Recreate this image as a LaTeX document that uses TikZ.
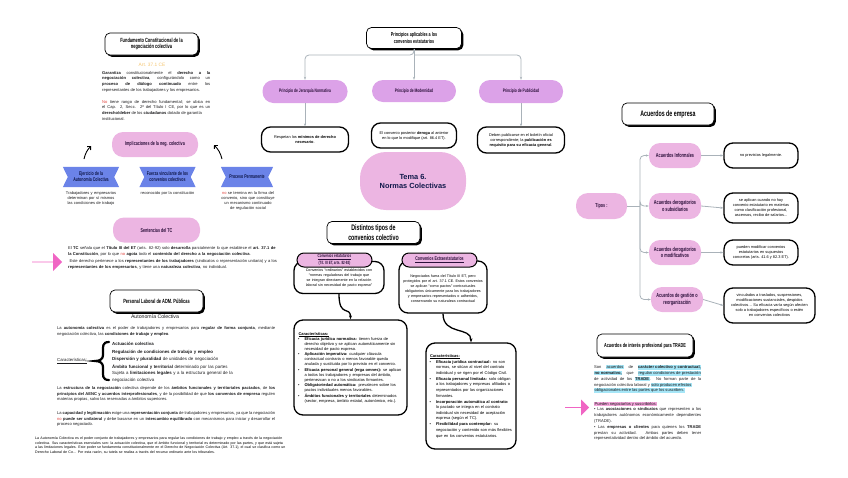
\documentclass[tikz,border=0pt]{standalone}
\usepackage{fontspec}
\setmainfont{Liberation Sans}
\newfontfamily\condfont[FakeStretch=0.66]{Liberation Sans}
\usepackage{enumitem}
\usetikzlibrary{arrows.meta, positioning, calc, shadows, shapes.arrows, backgrounds}
\definecolor{pillviolet}{HTML}{DCA2E8}
\definecolor{pillpink}  {HTML}{ECB5E2}
\definecolor{pilltext}  {HTML}{2B0F3A}
\definecolor{ribbonblue}{HTML}{6B83E8}
\definecolor{navy}      {HTML}{10184A}
\definecolor{conngray}  {HTML}{A9B2B9}
\definecolor{hotpink}   {HTML}{F065C4}
\definecolor{hlcyan}    {HTML}{A6E6F7}
\definecolor{hlpink}    {HTML}{F5A6DC}
\definecolor{artorange} {HTML}{F4C46E}
\definecolor{nored}     {HTML}{E0403A}
\definecolor{ink}       {HTML}{1A1A1C}

\newcommand{\hlc}[1]{{\setlength{\fboxsep}{0.4pt}\colorbox{hlcyan}{#1}}}
\newcommand{\hlp}[1]{{\setlength{\fboxsep}{0.4pt}\colorbox{hlpink}{#1}}}
\newcommand{\redno}[1]{\textcolor{nored}{#1}}
\newcommand{\fs}[2]{\fontsize{#1}{#2}\selectfont}

\tikzset{
  titlebox/.style={draw=black, line width=0.7pt, fill=white, rounded corners=5pt,
    drop shadow={shadow xshift=1.8pt, shadow yshift=-1.8pt, opacity=1, fill=black},
    font=\condfont\bfseries\fs{6}{6.8}, align=center, inner sep=1pt},
  pill/.style={fill=pillpink, rounded corners=11pt, text=pilltext,
    font=\condfont\bfseries\fs{5.6}{6.4}, align=center, inner sep=1pt},
  roundbox/.style={draw=black, line width=1.3pt, fill=white, rounded corners=9pt,
    align=center, font=\fs{3.9}{5}, inner sep=2pt},
  ribbontag/.style={text=navy, font=\condfont\bfseries\fs{5.4}{6}, align=center,
    minimum width=56pt, minimum height=20pt, inner sep=0pt},
  body/.style={font=\fs{4.1}{5.8}, align=justify, inner sep=0pt, anchor=north west, text=ink},
  small/.style={font=\fs{4}{5.2}, align=center, inner sep=0pt, anchor=north, text=ink},
  conn/.style={draw=conngray, line width=0.8pt, rounded corners=4pt, -{Stealth[length=3pt]}},
  flow/.style={draw=black, line width=1.3pt, -{Stealth[length=4pt]}},
  hand/.style={draw=black, line width=0.9pt, -{Straight Barb[length=2.5pt]}},
  pinkarrow/.style={single arrow, fill=hotpink, inner sep=0pt, single arrow head extend=5pt,
    minimum width=18pt},
}

\begin{document}
\hyphenpenalty=10000 \exhyphenpenalty=10000 \emergencystretch=2em
\begin{tikzpicture}[x=1pt, y=-1pt]
  \useasboundingbox (0,0) rectangle (848,477);

  % ---- left column: fundamento
  \node[titlebox, minimum width=93pt, minimum height=22pt] (fund) at (151.5,44)
    {Fundamento Constitucional de la\\negociación colectiva};
  \node[font=\fs{4.8}{5.6}, text=artorange] (art) at (152,65) {Art. 37.1 CE};
  \node[body, text width=108pt] (garant) at (102,71)
    {\textbf{Garantiza} constitucionalmente el \textbf{derecho a la}\linebreak
     \textbf{negociación colectiva}, configurándolo como un\linebreak
     \textbf{proceso de diálogo continuado} entre los\linebreak
     representantes de los trabajadores y los empresarios.};
  \node[body, text width=108pt] (rango) at (102,100)
    {\redno{No} tiene rango de derecho fundamental; se ubica en\linebreak
     el Cap. 2, Secc. 2ª del Título I CE, por lo que es un\linebreak
     \textbf{derecho/deber} de los \textbf{ciudadanos} dotado de garantía\\
     institucional.};
  \node[pill, minimum width=86pt, minimum height=25pt] (impl) at (155,144.5)
    {Implicaciones de la neg. colectiva};

  \node[ribbontag] (rb1) at (91,177) {Ejercicio de la\\Autonomía Colectiva};
  \node[ribbontag] (rb2) at (167.5,177) {Fuerza vinculante de los\\convenios colectivos};
  \node[ribbontag, minimum width=52pt] (rb3) at (247,177) {Proceso Permanente};
  \begin{scope}[on background layer]
    \foreach \r in {rb1,rb2,rb3}
      \fill[ribbonblue] (\r.north west) -- (\r.north east) -- ([xshift=-5pt]\r.east)
        -- (\r.south east) -- (\r.south west) -- ([xshift=5pt]\r.west) -- cycle;
  \end{scope}
  \node[small, text width=60pt] (sub1) at (91,191)
    {Trabajadores y empresarios determinan por sí mismos las condiciones de trabajo};
  \node[small, text width=66pt] (sub2) at (167.5,191) {reconocido por la constitución};
  \node[small, text width=54pt] (sub3) at (248,191)
    {\redno{no} se termina en la firma del convenio, sino que constituye un mecanismo continuado de regulación social};

  \coordinate (h1a) at (84,159);
  \coordinate (h1b) at (91,146);
  \coordinate (h3a) at (222,159);
  \coordinate (h3b) at (214,145);
  \draw[hand] (h1a) to[bend left=15] (h1b);
  \draw[hand] (h3a) to[bend right=15] (h3b);

  % ---- sentencias del TC
  \node[pill, minimum width=87pt, minimum height=25pt] (tc) at (156.5,230) {Sentencias del TC};
  \node[pinkarrow, minimum height=30pt] (parr1) at (47,262) {};
  \node[body, text width=212pt, align=left] (tctext) at (68,246)
    {El \textbf{TC} señala que el \textbf{Título III del ET} (arts. 82-92) solo \textbf{desarrolla} parcialmente lo que establece el \textbf{art. 37.1 de la Constitución}, por lo que \redno{no} \textbf{agota} todo el \textbf{contenido del derecho a la negociación colectiva}.\par\vspace{1.6pt}
     \ Este derecho pertenece a los \textbf{representantes de los trabajadores} (sindicatos o representación unitaria) y a los \textbf{representantes de los empresarios}, y tiene una \textbf{naturaleza colectiva}, no individual.};

  % ---- personal laboral
  \node[titlebox, minimum width=93pt, minimum height=22pt] (pers) at (156.5,301)
    {Personal Laboral de ADM. Públicas};
  \node[font=\fs{5.2}{6}, text=ink] (autotit) at (155,317) {Autonomía Colectiva};
  \node[body, text width=218pt] (auto) at (57,326)
    {La \textbf{autonomía colectiva} es el poder de trabajadores y empresarios para \textbf{regular de forma conjunta}, mediante negociación colectiva, las \textbf{condiciones de trabajo y empleo}.};
  \node[font=\fs{4.3}{5}, anchor=west, inner sep=0pt, text=ink] (carlab) at (57,361)
    {\underline{Características:}};
  % brace
  \draw[black, line width=2.2pt, line cap=round]
    (109,342) .. controls (102,342) and (103,347) .. (103,352) -- (103,355)
    .. controls (103,359) and (100,361) .. (95,361)
    .. controls (100,361) and (103,363) .. (103,367) -- (103,370)
    .. controls (103,375) and (102,380) .. (109,380);
  \node[font=\fs{4.4}{7.6}, anchor=north west, inner sep=0pt, text width=132pt, align=left, text=ink] (carlist) at (112,342)
    {\textbf{Actuación colectiva}\\
     \textbf{Regulación de condiciones de trabajo y empleo}\\
     \textbf{Dispersión y pluralidad} de unidades de negociación\\
     \textbf{Ámbito funcional y territorial} determinado por las partes\\[-1.6pt]
     {\fs{4.4}{5.8}Sujeta a \textbf{limitaciones legales} y a la estructura general de la negociación colectiva}};
  \node[body, text width=218pt] (estr) at (57,386)
    {La \textbf{estructura de la negociación} colectiva depende de los \textbf{ámbitos funcionales y territoriales pactados}, de \textbf{los principios del AENC y acuerdos interprofesionales}, y de la posibilidad de que \textbf{los convenios de empresa} regulen materias propias, salvo las reservadas a ámbitos superiores.};
  \node[body, text width=218pt] (capac) at (57,411)
    {La \textbf{capacidad y legitimación} exige una \textbf{representación conjunta} de trabajadores y empresarios, ya que la negociación \redno{no} \textbf{puede ser unilateral} y debe basarse en un \textbf{intercambio equilibrado} con mecanismos para iniciar y desarrollar el proceso negociado.};
  \node[body, text width=256pt, font=\fs{3.6}{4.4}, align=left, text=black] (resumen) at (35,437)
    {La Autonomía Colectiva es el poder conjunto de trabajadores y empresarios para regular las condiciones de trabajo y empleo a través de la negociación colectiva. Sus características esenciales son: la actuación colectiva, que el ámbito funcional y territorial es determinado por las partes, y que está sujeta a las limitaciones legales. Este poder se fundamenta constitucionalmente en el Derecho de Negociación Colectiva (Art. 37.1), el cual se clasifica como un Derecho Laboral de Co... Por esta razón, su tutela se realiza a través del recurso ordinario ante los tribunales.};

  % ---- principios
  \node[titlebox, minimum width=95pt, minimum height=21pt, font=\condfont\bfseries\fs{5.6}{6.4}] (prin) at (414,38)
    {Principios aplicables a los\\convenios estatutarios};
  \coordinate (split) at (414,55);
  \node[pill, fill=pillviolet, minimum width=85pt, minimum height=23pt, font=\condfont\bfseries\fs{5}{6}] (pj) at (305,91.5)
    {Principio de Jerarquía Normativa};
  \node[pill, fill=pillviolet, minimum width=84pt, minimum height=22pt, font=\condfont\bfseries\fs{5}{6}] (pm) at (414,91)
    {Principio de Modernidad};
  \node[pill, fill=pillviolet, minimum width=84pt, minimum height=23pt, font=\condfont\bfseries\fs{5}{6}] (pp) at (521,91.5)
    {Principio de Publicidad};
  \draw[conn] (prin.south) -- (split) -| (pj.north);
  \draw[conn] (prin.south) -- (pm.north);
  \draw[conn] (split) -| (pp.north);
  \node[roundbox, minimum width=87pt, minimum height=25pt] (bj) at (305,139.5)
    {Respetan los \textbf{mínimos de derecho}\\\textbf{necesario}.};
  \node[roundbox, minimum width=85pt, minimum height=25pt] (bm) at (414,135.5)
    {El convenio posterior \textbf{deroga} al anterior\\en lo que lo modifique (art. 86.4 ET).};
  \node[roundbox, minimum width=87pt, minimum height=26pt] (bp) at (521,140)
    {Deben publicarse en el boletín oficial\\correspondiente; la \textbf{publicación es}\\\textbf{requisito para su eficacia general}.};
  \draw[conn] (pj.south) -- (bj.north);
  \draw[conn] (pp.south) -- (bp.north);

  % ---- tema central
  \node[fill=pillpink, rounded corners=26pt, minimum width=106pt, minimum height=58pt,
        font=\bfseries\fs{7.4}{9}, text=navy, align=center] (tema) at (413,181)
    {Tema 6.\\Normas Colectivas};

  % ---- tipos de convenios
  \node[titlebox, minimum width=93pt, minimum height=22pt, font=\condfont\bfseries\fs{8}{9.4}] (tipconv) at (373.5,232.5)
    {Distintos tipos de\\convenios colectivo};
  \node[roundbox, minimum width=90pt, minimum height=32pt, text width=84pt, font=\fs{3.7}{5.1}] (est) at (339,277.5)
    {\\[-1pt]Convenios “ordinarios” establecidos con “normas reguladoras del trabajo que se integran directamente en la relación laboral sin necesidad de pacto expreso”};
  \node[pill, draw=black, line width=1pt, rounded corners=7pt, minimum width=75pt, minimum height=14pt,
        font=\condfont\bfseries\fs{4.6}{5}] (estpill) at (334.5,260)
    {\underline{Convenios estatutarios}\\(Tít. III ET, arts. 82-92)};
  \node[roundbox, minimum width=88pt, minimum height=52pt, text width=80pt, font=\fs{3.7}{5.1}] (ext) at (443,287)
    {\\[1pt]Negociados fuera del Título III ET, pero protegidos por el art. 37.1 CE. Estos convenios se aplican “como pactos” contractuales obligatorios únicamente para los trabajadores y empresarios representados o adheridos, conservando su naturaleza contractual};
  \node[pill, draw=black, line width=1pt, rounded corners=7pt, minimum width=75pt, minimum height=14pt,
        font=\condfont\bfseries\fs{5.4}{6}] (extpill) at (439.5,260)
    {\underline{Convenios Extraestatutarios}};

  \node[roundbox, minimum width=113pt, minimum height=95pt, text width=104pt, align=left,
        font=\fs{4}{5}] (car1) at (350.5,367.5)
    {\underline{\textbf{Características:}}
     \begin{itemize}[leftmargin=6pt, label=\textbullet, topsep=0.5pt, itemsep=0.4pt, parsep=0pt]
     \item \textbf{Eficacia jurídica normativa:} tienen fuerza de derecho objetivo y se aplican automáticamente sin necesidad de pacto expreso.
     \item \textbf{Aplicación imperativa:} cualquier cláusula contractual contraria o menos favorable queda anulada y sustituida por lo previsto en el convenio.
     \item \textbf{Eficacia personal general (erga omnes):} se aplican a todos los trabajadores y empresas del ámbito, pertenezcan o no a los sindicatos firmantes.
     \item \textbf{Obligatoriedad automática:} prevalecen sobre los pactos individuales menos favorables.
     \item \textbf{Ámbitos funcionales y territoriales} determinados (sector, empresa, ámbito estatal, autonómico, etc.).
     \end{itemize}};
  \node[roundbox, minimum width=90pt, minimum height=106pt, text width=82pt, align=left,
        font=\fs{4}{5.6}] (car2) at (471,396)
    {\underline{\textbf{Características:}}
     \begin{itemize}[leftmargin=6pt, label=\textbullet, topsep=0.5pt, itemsep=0.4pt, parsep=0pt]
     \item \textbf{Eficacia jurídica contractual:} no son normas, se sitúan al nivel del contrato individual y se rigen por el Código Civil.
     \item \textbf{Eficacia personal limitada:} solo obligan a los trabajadores y empresas afiliados o representados por las organizaciones firmantes.
     \item \textbf{Incorporación automática al contrato:} lo pactado se integra en el contrato individual sin necesidad de aceptación expresa (según el TC).
     \item \textbf{Flexibilidad para contemplar:} su negociación y contenido son más flexibles que en los convenios estatutarios.
     \end{itemize}};
  \draw[flow] (est.south) .. controls +(0,24) and +(0,-14) .. (car1.north);
  \draw[flow] (ext.south) .. controls +(0,22) and +(0,-16) .. (car2.north);

  % ---- acuerdos de empresa
  \node[titlebox, minimum width=92pt, minimum height=22pt, font=\condfont\bfseries\fs{8}{9}] (empr) at (668,114)
    {Acuerdos de empresa};
  \node[pill, minimum width=51pt, minimum height=26pt, rounded corners=12pt] (tipos) at (601.5,206) {Tipos :};
  \coordinate (trunk) at (640,206);
  \node[pill, minimum width=52pt, minimum height=25pt, font=\condfont\bfseries\fs{5.8}{6.4}] (ac1) at (675,155.5)
    {Acuerdos Informales};
  \node[pill, minimum width=52pt, minimum height=26pt, font=\condfont\bfseries\fs{5.8}{6.4}] (ac2) at (675,206)
    {Acuerdos derogatorios\\o subsidiarios};
  \node[pill, minimum width=52pt, minimum height=25pt, font=\condfont\bfseries\fs{5.8}{6.4}] (ac3) at (675,252.5)
    {Acuerdos derogatorios\\o modificativos};
  \node[pill, minimum width=52pt, minimum height=25pt, font=\condfont\bfseries\fs{5.8}{6.4}] (ac4) at (677,299.5)
    {Acuerdos de gestión o\\reorganización};
  \node[roundbox, minimum width=74pt, minimum height=25pt] (ex1) at (761,155.5)
    {no previstos legalmente.};
  \node[roundbox, minimum width=74pt, minimum height=30pt] (ex2) at (761,208)
    {se aplican cuando no hay\\convenio estatutario en materias\\como clasificación profesional,\\ascensos, recibo de salarios...};
  \node[roundbox, minimum width=74pt, minimum height=25pt] (ex3) at (761,252.5)
    {pueden modificar convenios\\estatutarios en supuestos\\concretos (arts. 41.6 y 82.3 ET).};
  \node[roundbox, minimum width=91pt, minimum height=35pt] (ex4) at (769.5,305.5)
    {vinculados a traslados, suspensiones,\\modificaciones sustanciales, despidos\\colectivos… Su eficacia varía según afecten\\solo a trabajadores específicos o estén\\en convenios colectivos};
  \draw[conn, -] (tipos.east) -- (trunk);
  \foreach \a in {ac1,ac2,ac3,ac4}
    \draw[conn] (trunk) |- (\a.west);
  \foreach \a/\b in {ac1/ex1,ac2/ex2,ac3/ex3,ac4/ex4}
    \draw[conn] (\a.east) -- (\b.west);

  % ---- TRADE
  \node[titlebox, minimum width=96pt, minimum height=23pt, font=\condfont\bfseries\fs{5.8}{6.4}] (trade) at (645,345.5)
    {Acuerdos de interés profesional para TRADE};
  \node[body, text width=107pt] (tradetext) at (594,365)
    {Son \hlc{acuerdos} de \hlc{\textbf{carácter colectivo y contractual,}}\linebreak
     \hlc{\textbf{no normativo,}} que \hlc{regulan condiciones de prestación}\linebreak
     de actividad de los \hlc{\textbf{TRADE}}. No forman parte de la\linebreak
     negociación colectiva laboral y \hlc{solo producen efectos}\\
     \hlc{obligacionales entre las partes que los suscriben.}};
  \node[pinkarrow, minimum height=24pt, minimum width=16pt, single arrow head extend=4pt] (parr2) at (577,407.5) {};
  \node[body, text width=107pt] (pueden) at (594,401.5)
    {\hlp{Pueden negociarlos y suscribirlos:}\\
     • Las \textbf{asociaciones o sindicatos} que representen a los trabajadores autónomos económicamente dependientes (TRADE).\\
     • Las \textbf{empresas o clientes} para quienes los \textbf{TRADE} prestan su actividad. Ambas partes deben tener representatividad dentro del ámbito del acuerdo.};
\end{tikzpicture}
\end{document}
